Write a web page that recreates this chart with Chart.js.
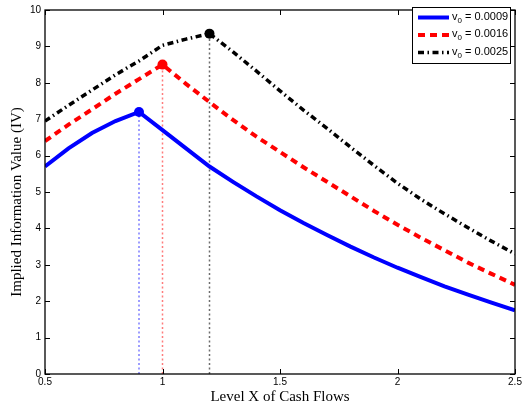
<!DOCTYPE html>
<html><head><meta charset="utf-8">
<script src="https://cdn.jsdelivr.net/npm/chart.js@4/dist/chart.umd.min.js"></script>
<style>html,body{margin:0;padding:0;background:#fff;}#wrap{width:525px;height:412px;}</style>
</head><body><div id="wrap"><canvas id="c" width="525" height="412"></canvas></div>
<script>
// ---- data ----
const xLevels = [0.5,0.6,0.7,0.8,0.9,1.0,1.1,1.2,1.3,1.4,1.5,1.6,1.7,1.8,1.9,2.0,2.1,2.2,2.3,2.4,2.5];
const ivV0009 = [5.70,6.20,6.62,6.95,7.20,6.70,6.20,5.70,5.28,4.88,4.50,4.15,3.82,3.50,3.20,2.92,2.66,2.41,2.18,1.96,1.75];
const ivV0016 = [6.40,6.85,7.27,7.70,8.10,8.50,7.97,7.47,6.98,6.52,6.10,5.68,5.28,4.88,4.48,4.10,3.74,3.40,3.06,2.75,2.45];
const ivV0025 = [6.95,7.38,7.80,8.22,8.60,9.03,9.20,9.35,8.85,8.32,7.78,7.25,6.75,6.23,5.73,5.24,4.80,4.40,4.02,3.65,3.30];
const v0Labels = ['0.0009','0.0016','0.0025'];
const peakX = [0.9, 1.0, 1.2];
const xTicks = [0.5, 1, 1.5, 2, 2.5];
const yTicks = [0,1,2,3,4,5,6,7,8,9,10];
const xTitle = 'Level X of Cash Flows';
const yTitle = 'Implied Information Value (IV)';

const seriesValues = [ivV0009, ivV0016, ivV0025];
const seriesColors = ['#0000ff', '#ff0000', '#000000'];
const guideColors = ['rgba(80,80,255,0.75)', 'rgba(255,80,80,0.75)', 'rgba(60,60,60,0.75)'];
const seriesDash = [[], [7,5], [6,3.5,1.5,3.5]];
const seriesWidth = [4, 4, 3.5];

const pts = vals => xLevels.map((x,i)=>({x:x, y:vals[i]}));
const peakY = (k) => seriesValues[k][xLevels.findIndex(x=>Math.abs(x-peakX[k])<1e-9)];

const datasets = [];
// guide (dotted) lines
for (let k=0;k<3;k++) {
  datasets.push({
    data:[{x:peakX[k], y:0},{x:peakX[k], y:peakY(k)}],
    borderColor: guideColors[k], borderWidth:1.5, borderDash:[2,2.5],
    pointRadius:0, fill:false, order: 5
  });
}
for (let k=0;k<3;k++) {
  datasets.push({
    label:'v0 = '+v0Labels[k],
    data: pts(seriesValues[k]),
    borderColor: seriesColors[k], borderWidth: seriesWidth[k], borderDash: seriesDash[k],
    pointRadius:0, fill:false, tension:0, order: 3
  });
}
for (let k=0;k<3;k++) {
  datasets.push({
    data:[{x:peakX[k], y:peakY(k)}],
    showLine:false, pointRadius:5, pointHoverRadius:5,
    pointBackgroundColor: seriesColors[k], pointBorderColor: seriesColors[k], pointBorderWidth:0,
    order: 1
  });
}

const frame = {
  id:'frame',
  afterDraw(chart){
    const ctx = chart.ctx, a = chart.chartArea;
    const xs = chart.scales.x, ys = chart.scales.y;
    ctx.save();
    ctx.strokeStyle = '#000'; ctx.lineWidth = 1.3;
    ctx.strokeRect(a.left, a.top, a.right-a.left, a.bottom-a.top);
    ctx.lineWidth = 1;
    ctx.beginPath();
    const tl = 5;
    xTicks.forEach(v=>{ const p = Math.round(xs.getPixelForValue(v))+0.5;
      ctx.moveTo(p, a.bottom); ctx.lineTo(p, a.bottom-tl);
      ctx.moveTo(p, a.top); ctx.lineTo(p, a.top+tl); });
    yTicks.forEach(v=>{ const p = Math.round(ys.getPixelForValue(v))+0.5;
      ctx.moveTo(a.left, p); ctx.lineTo(a.left+tl, p);
      ctx.moveTo(a.right, p); ctx.lineTo(a.right-tl, p); });
    ctx.stroke();

    // legend
    const bx = 412, by = 7, bw = 98, bh = 56;
    ctx.fillStyle = '#fff'; ctx.fillRect(bx, by, bw, bh);
    ctx.lineWidth = 1; ctx.strokeStyle = '#000';
    ctx.strokeRect(bx+0.5, by+0.5, bw, bh);
    for (let k=0;k<3;k++){
      const cy = by + 10.5 + k*17.5;
      ctx.beginPath();
      ctx.strokeStyle = seriesColors[k]; ctx.lineWidth = seriesWidth[k];
      ctx.setLineDash(seriesDash[k]);
      ctx.moveTo(418, cy); ctx.lineTo(449, cy); ctx.stroke();
      ctx.setLineDash([]);
      ctx.fillStyle = '#000'; ctx.textBaseline = 'middle'; ctx.textAlign='left';
      ctx.font = '11px "Liberation Sans", Arial, sans-serif';
      let x = 452;
      ctx.fillText('v', x, cy-1); x += ctx.measureText('v').width;
      ctx.font = '8px "Liberation Sans", Arial, sans-serif';
      ctx.fillText('0', x, cy+3); x += ctx.measureText('0').width;
      ctx.font = '11px "Liberation Sans", Arial, sans-serif';
      ctx.fillText(' = ' + v0Labels[k], x, cy-1);
    }
    // y title
    ctx.translate(17, 202); ctx.rotate(-Math.PI/2);
    ctx.fillStyle = '#000'; ctx.textAlign='center'; ctx.textBaseline='middle';
    ctx.font = '15px "Liberation Serif", "Times New Roman", serif';
    ctx.fillText(yTitle, 0, 0);
    ctx.restore();
  }
};

new Chart(document.getElementById('c'), {
  type:'line',
  data:{datasets},
  options:{
    responsive:false, animation:false, devicePixelRatio:1,
    layout:{padding:{top:4,right:10,left:0,bottom:0}},
    plugins:{legend:{display:false}, tooltip:{enabled:false}},
    scales:{
      x:{type:'linear', min:0.5, max:2.5,
        afterBuildTicks: s => { s.ticks = xTicks.map(v=>({value:v})); },
        ticks:{font:{family:'"Liberation Sans", Arial, sans-serif', size:10}, color:'#000', padding:2, maxRotation:0,
          callback: v => String(v)},
        grid:{display:false, drawTicks:false}, border:{display:false},
        title:{display:true, text:xTitle, color:'#000', font:{family:'"Liberation Serif", "Times New Roman", serif', size:15}, padding:{top:0,bottom:6}},
        afterFit: s => { s.height = 38; }
      },
      y:{type:'linear', min:0, max:10,
        afterBuildTicks: s => { s.ticks = yTicks.map(v=>({value:v})); },
        ticks:{font:{family:'"Liberation Sans", Arial, sans-serif', size:10}, color:'#000', padding:4},
        grid:{display:false, drawTicks:false}, border:{display:false},
        afterFit: s => { s.width = 45; }
      }
    }
  },
  plugins:[frame]
});
</script></body></html>
